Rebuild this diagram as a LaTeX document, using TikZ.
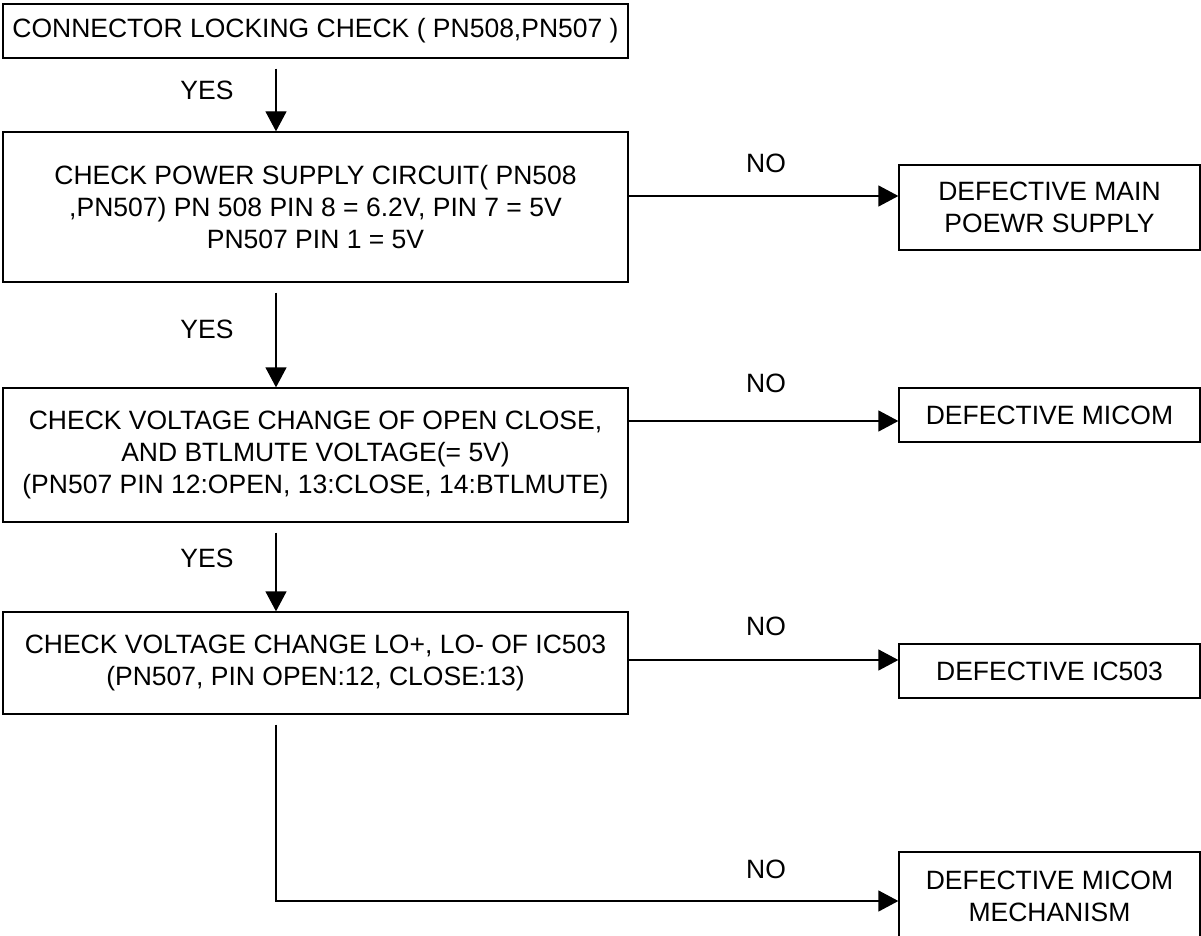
\documentclass[tikz,border=0pt]{standalone}
\usepackage{fontspec}
\setmainfont{Liberation Sans}
\usetikzlibrary{arrows.meta}

\begin{document}
\begin{tikzpicture}[x=1pt,y=-1pt]
\tikzstyle{box}=[draw,line width=1.3pt,inner sep=0pt,align=center,font=\fontsize{26.5}{32}\selectfont]
\tikzstyle{lbl}=[inner sep=0pt,font=\fontsize{26.5}{32}\selectfont]
\tikzstyle{op}=[-{Triangle[length=20pt,width=21pt]},line width=1.3pt]
\useasboundingbox (0,0) rectangle (1201,936);
\coordinate (s) at (276,0);
\node (1) at (315.5,31) [box,minimum width=625pt,minimum height=54pt]{CONNECTOR LOCKING CHECK ( PN508,PN507 )};
\node (2) at (315.5,207) [box,minimum width=625pt,minimum height=150pt]{CHECK POWER SUPPLY CIRCUIT( PN508\\,PN507) PN 508 PIN 8 = 6.2V, PIN 7 = 5V\\PN507 PIN 1 = 5V};
\node (3) at (315.5,455) [box,minimum width=625pt,minimum height=134pt]{CHECK VOLTAGE CHANGE OF OPEN CLOSE,\\AND BTLMUTE VOLTAGE(= 5V)\\(PN507 PIN 12:OPEN, 13:CLOSE, 14:BTLMUTE)};
\node (4) at (315.5,663) [box,minimum width=625pt,minimum height=102pt]{CHECK VOLTAGE CHANGE LO+, LO- OF IC503\\(PN507, PIN OPEN:12, CLOSE:13)};
\node (5) at (1049.5,207.5) [box,minimum width=301pt,minimum height=85pt]{DEFECTIVE MAIN\\POEWR SUPPLY};
\node (6) at (1049.5,415) [box,minimum width=301pt,minimum height=54pt]{DEFECTIVE MICOM};
\node (7) at (1049.5,671) [box,minimum width=301pt,minimum height=54pt]{DEFECTIVE IC503};
\node (8) at (1049.5,896) [box,minimum width=301pt,minimum height=88pt]{DEFECTIVE MICOM\\MECHANISM};
\node (9) at (207,90) [lbl]{YES};
\node (10) at (207,329) [lbl]{YES};
\node (11) at (207,558) [lbl]{YES};
\node (12) at (766,163) [lbl]{NO};
\node (13) at (766,383) [lbl]{NO};
\node (14) at (766,626) [lbl]{NO};
\node (15) at (766,869) [lbl]{NO};

\draw[op,shorten <=10pt] (1.south -| s) -- (2.north -| s);
\draw[op,shorten <=10pt] (2.south -| s) -- (3.north -| s);
\draw[op,shorten <=10pt] (3.south -| s) -- (4.north -| s);
\draw[op,shorten <=10pt] (4.south -| s) |- ([yshift=-5pt]8.west);
\draw[op] ([yshift=11pt]2.east) -- ([yshift=11pt]2.east -| 5.west);
\draw[op] ([yshift=34pt]3.east) -- ([yshift=34pt]3.east -| 6.west);
\draw[op] ([yshift=3pt]4.east) -- ([yshift=3pt]4.east -| 7.west);
\end{tikzpicture}
\end{document}
